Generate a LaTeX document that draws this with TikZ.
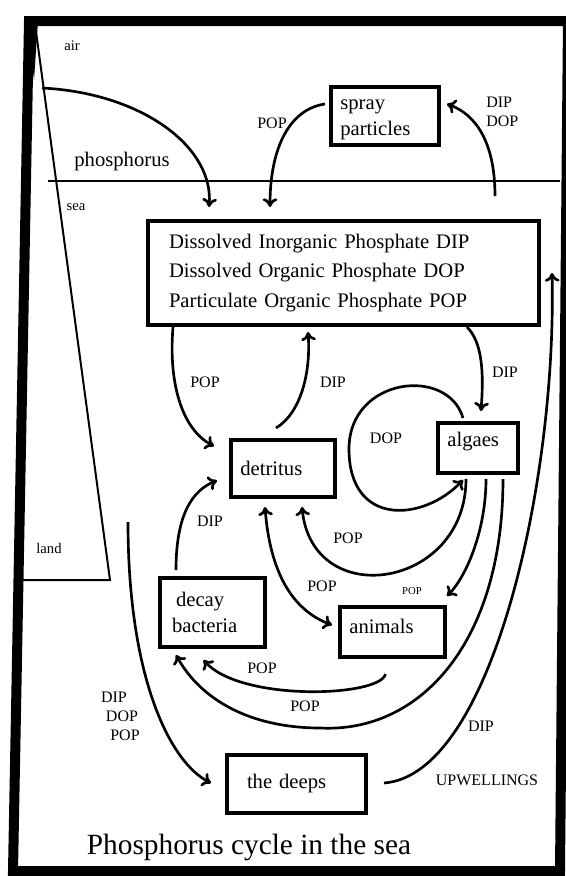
\documentclass[tikz,border=0pt]{standalone}
\usepackage{fontspec}
\setmainfont{Liberation Serif}
\usetikzlibrary{arrows.meta,calc}

\begin{document}
\begin{tikzpicture}[x=0.75pt,y=0.75pt,yscale=-1,xscale=1,
  >={Computer Modern Rightarrow[length=6.5pt,width=11pt]},
  box/.style={draw, line width=3pt, align=left, inner xsep=7pt, inner ysep=0pt, font=\fontsize{15.5}{21}\selectfont},
  flow/.style={line width=2pt, ->},
  twoway/.style={line width=2pt, <->},
  tag/.style={inner sep=0pt, font=\fontsize{12}{14.3}\selectfont},
  zone/.style={inner sep=0pt, font=\fontsize{11}{13}\selectfont}]
\useasboundingbox (0,0) rectangle (565,876); %set diagram size

%Shape: Frame 
\draw [line width=7.5pt, line join=miter] (29,21) -- (568,21) -- (560,871) -- (13,871) -- cycle ;
%Straight Lines 
\draw [line width=1.6pt]  (48,181) -- (560,181) ;
%Straight Lines 
\draw [line width=1.5pt]  (35,24) -- (110,580) -- (15,580) ;
\fill (27,21) -- (38,21) -- (34,80) -- cycle ;
\coordinate (coast) at (42,88) ;
\coordinate (drop) at (128,522) ;

% Text Node
\draw (72,46) node [zone] (air) {air};
% Text Node
\draw (76,207) node [zone] (sea) {sea};
% Text Node
\draw (49,548) node [zone] (land) {land};
% Text Node
\draw (122,162) node [font=\fontsize{15.5}{18}\selectfont, inner sep=0pt] (phos) {phosphorus};

%Shape: Rectangle 
\draw (385,116) node [box, text width=67pt, minimum height=43.5pt, text depth=17pt, font=\fontsize{15.5}{19.5}\selectfont] (spray) {spray\\particles};
%Shape: Rectangle 
\draw (343.5,273) node [box, inner xsep=15.75pt, text width=261.75pt, minimum height=78pt, font=\fontsize{15.5}{22}\selectfont] (pool) {Dissolved Inorganic Phosphate DIP\\Dissolved Organic Phosphate DOP\\Particulate Organic Phosphate POP};
%Shape: Rectangle 
\draw (283,468.5) node [box, text width=64pt, minimum height=42.75pt] (detritus) {detritus};
%Shape: Rectangle 
\draw (478,448) node [box, text width=46pt, minimum height=37.5pt, text depth=13pt] (algaes) {algaes};
%Shape: Rectangle 
\draw (212.5,612.5) node [box, inner xsep=9pt, text width=60.75pt, minimum height=51.75pt, font=\fontsize{15.5}{20}\selectfont] (decay) {\hspace{3pt}decay\\bacteria};
%Shape: Rectangle 
\draw (392.5,632) node [box, text width=64.75pt, minimum height=37.5pt, text depth=9pt] (animals) {animals};
%Shape: Rectangle 
\draw (296.5,784) node [box, inner xsep=15pt, text width=74.25pt, minimum height=43.5pt] (deeps) {the deeps};

%Curve Lines 
\draw [flow] (coast) .. controls +(100,5) and +(5,-60) .. ($(pool.north west)+(63,-12)$) ;
%Curve Lines 
\draw [flow] ($(spray.north west)+(-4,19)$) .. controls +(-35,5) and +(0,-60) .. ($(pool.north west)+(124,-12)$) ;
%Curve Lines 
\draw [flow] ($(pool.north east)+(-46,-23)$) .. controls +(0,-55) and +(28,10) .. ($(spray.north east)+(6,19)$) ;
%Curve Lines 
\draw [flow] ($(pool.south west)+(27,0)$) .. controls +(-5,60) and +(-30,-15) .. ($(detritus.north west)+(-15,8)$) ;
%Curve Lines 
\draw [flow] ($(detritus.north)+(-7,-10)$) .. controls +(25,-15) and +(3,40) .. ($(pool.south west)+(162,5)$) ;
%Curve Lines 
\draw [flow] ($(pool.south east)+(-74,0)$) .. controls +(15,15) and +(3,-40) .. ($(algaes.north)+(3,-10)$) ;
%Curve Lines 
\draw [flow] ($(algaes.north west)+(27,-3)$) .. controls +(-15,-52) and +(0,-72) .. ($(algaes.west)+(-87,1)$) .. controls +(0,78) and +(-40,42) .. ($(algaes.south west)+(27,5)$) ;
%Curve Lines 
\draw [flow] ($(algaes.south west)+(30,4)$) .. controls +(0,110) and +(10,105) .. ($(detritus.south east)+(-35,8)$) ;
%Curve Lines 
\draw [twoway] ($(detritus.south west)+(36,8)$) .. controls +(5,65) and +(-40,-15) .. ($(animals.west)+(-6,-7)$) ;
%Curve Lines 
\draw [flow] ($(algaes.south west)+(50,4)$) .. controls +(0,50) and +(20,-20) .. ($(animals.north east)+(0,-9)$) ;
%Curve Lines 
\draw [flow] ($(algaes.south west)+(67,4)$) .. controls +(0,163) and +(100,5) .. ($(deeps.north)+(24,-25)$) .. controls +(-70,0) and +(25,45) .. ($(decay.south west)+(18,6)$) ;
%Curve Lines 
\draw [flow] ($(animals.south)+(-7,15)$) .. controls +(-5,23) and +(37,42) .. ($(decay.south)+(-9,11)$) ;
%Curve Lines 
\draw [flow] ($(decay.north west)+(18,-6)$) .. controls +(0,-55) and +(-25,10) .. ($(detritus.west)+(-12,12)$) ;
%Curve Lines 
\draw [flow] (drop) .. controls +(0,158) and +(-40,-20) .. ($(deeps.west)+(-14,-1)$) ;
%Curve Lines 
\draw [flow] ($(deeps.east)+(16,-1)$) .. controls +(108,-8) and +(5,207) .. ($(pool.east)+(11,0)$) ;

% Text Node
\draw (272,123) node [tag] (popspray) {POP};
% Text Node
\draw (486,112) node [tag, anchor=west, align=left] (dipdop) {DIP\\DOP};
% Text Node
\draw (205,382) node [tag] (popfall) {POP};
% Text Node
\draw (333,382) node [tag] (diprise) {DIP};
% Text Node
\draw (505,372) node [tag] (dipalg) {DIP};
% Text Node
\draw (386,438) node [tag] (dopalg) {DOP};
% Text Node
\draw (210,521) node [tag] (dipdecay) {DIP};
% Text Node
\draw (348,538) node [tag] (popalg) {POP};
% Text Node
\draw (322,586) node [tag] (popanim) {POP};
% Text Node
\draw (412,591) node [inner sep=0pt, font=\fontsize{8}{9}\selectfont] (popgraze) {POP};
% Text Node
\draw (262,668) node [tag] (popinner) {POP};
% Text Node
\draw (305,706) node [tag] (popouter) {POP};
% Text Node
\draw (114,697) node [tag] (sinkdip) {DIP};
% Text Node
\draw (122,716) node [tag] (sinkdop) {DOP};
% Text Node
\draw (125,735) node [tag] (sinkpop) {POP};
% Text Node
\draw (481,726) node [tag] (dipup) {DIP};
% Text Node
\draw (487,780) node [tag] (upwell) {UPWELLINGS};
% Text Node
\draw (249,847) node [inner sep=0pt, font=\fontsize{22}{26}\selectfont] (title) {Phosphorus cycle in the sea};

\end{tikzpicture}
\end{document}
